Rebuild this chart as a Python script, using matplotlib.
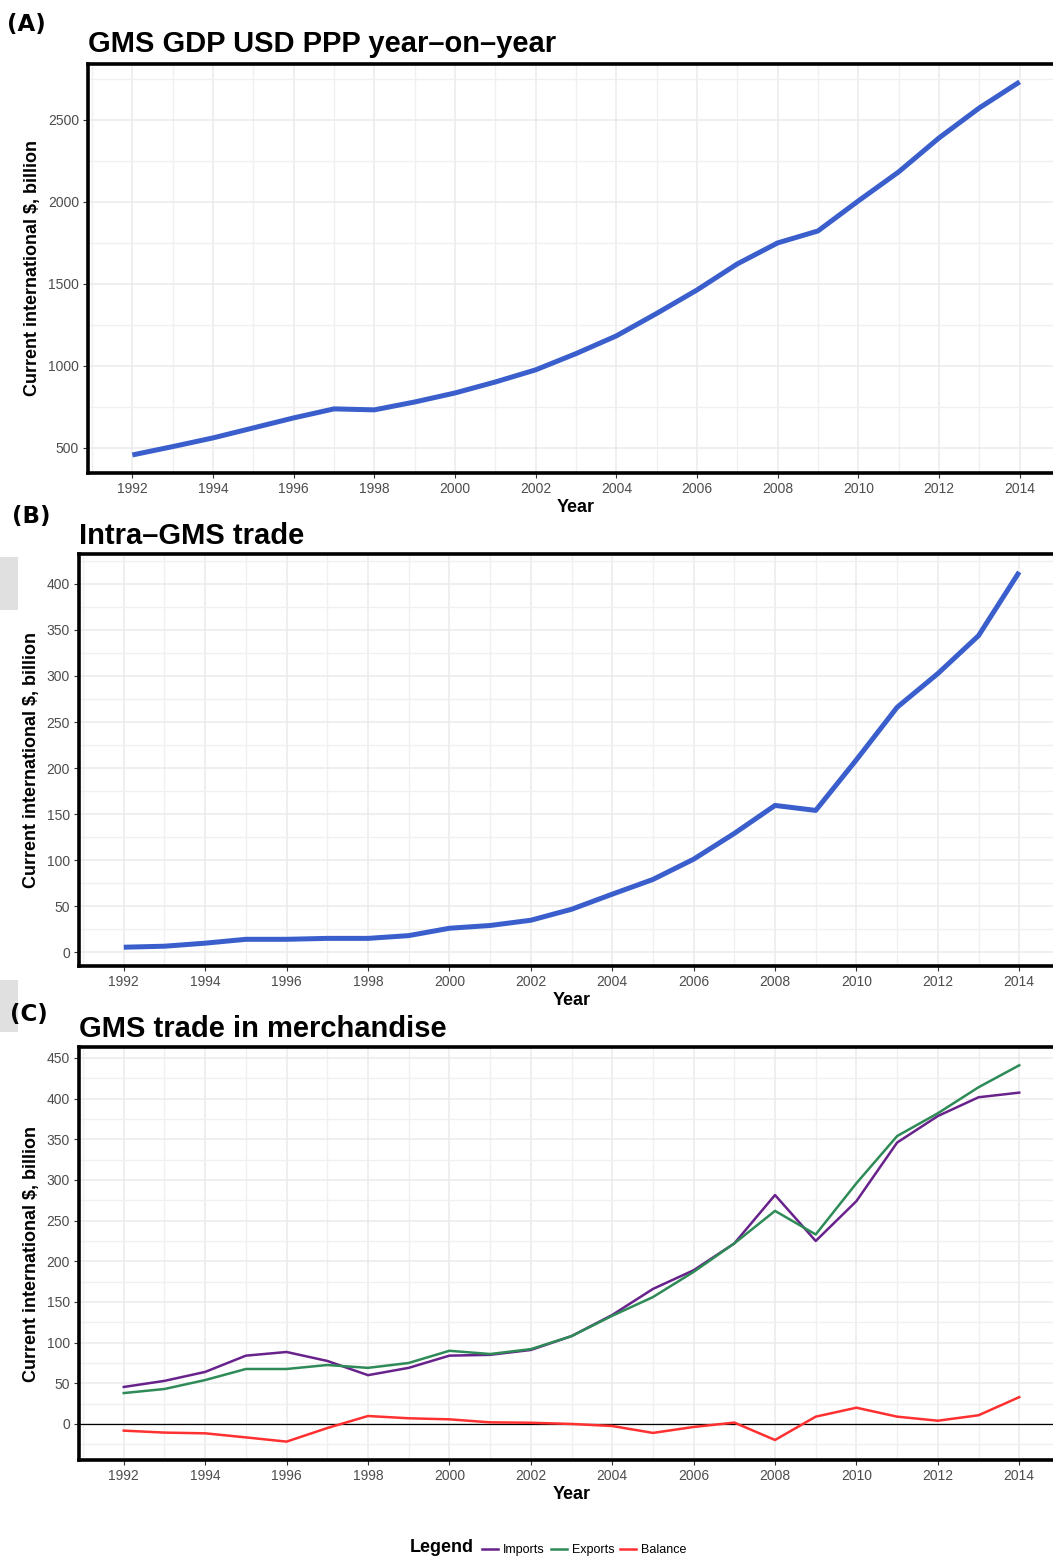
import matplotlib.pyplot as plt
from matplotlib.patches import Rectangle
from matplotlib.ticker import MultipleLocator

plt.rcParams['font.family'] = ['Liberation Sans', 'DejaVu Sans']

years = list(range(1992, 2015))

# GDP, current international $ billion (PPP)
gdp = [457, 508, 561, 622, 683, 738, 732, 780, 835, 902, 976, 1075,
       1183, 1320, 1463, 1622, 1750, 1823, 2006, 2183, 2390, 2573, 2732]

# intra-GMS trade, billion
intra = [5.4, 6.5, 9.8, 14, 14, 15, 15, 18, 26, 29, 34.7, 46.6,
         63, 79, 101, 129, 159.4, 154, 209, 266, 302.6, 343.8, 413]

# merchandise trade, billion
imports = [45.5, 53, 64, 84, 88.5, 77.5, 60, 69, 84, 85, 91, 108,
           134, 166, 189, 222, 281.5, 225, 274, 346, 378.6, 401.7, 407.4]
exports = [38, 43, 54, 67.6, 67.6, 72.5, 69, 75, 90, 86, 92, 108,
           133, 156, 187, 222, 262, 233, 296, 354, 382, 414, 441]
balance = [-8.2, -10.6, -11.5, -16.5, -21.7, -5, 9.8, 7, 5.7, 2, 1.5, 0,
           -2.5, -11, -3.7, 1.7, -19.7, 9, 20, 9, 4, 10.7, 33]

W, H = 1053, 1559
fig = plt.figure(figsize=(W / 100, H / 100), dpi=100)


def box(l, t, r, b):
    return [l / W, 1 - b / H, (r - l) / W, (b - t) / H]


def style(ax, ystep, ylim):
    ax.set_xlim(1990.9, 2015.1)
    ax.set_ylim(*ylim)
    ax.xaxis.set_major_locator(MultipleLocator(2))
    ax.xaxis.set_minor_locator(MultipleLocator(1))
    ax.yaxis.set_major_locator(MultipleLocator(ystep))
    ax.yaxis.set_minor_locator(MultipleLocator(ystep / 2))
    ax.grid(which='major', color='#ebebeb', lw=1.1, zorder=0)
    ax.grid(which='minor', color='#f0f0f0', lw=1.0, zorder=0)
    ax.set_axisbelow(True)
    for s in ['left', 'top', 'bottom']:
        ax.spines[s].set_linewidth(2.6)
        ax.spines[s].set_color('black')
    ax.spines['right'].set_visible(False)
    ax.tick_params(which='major', length=3.5, width=0.8, color='#333333',
                   labelcolor='#4d4d4d', labelsize=10, pad=3)
    ax.tick_params(which='minor', length=0)
    ax.set_xlabel('Year', fontsize=13, fontweight='bold', labelpad=2)
    ax.set_ylabel('Current international $, billion', fontsize=13,
                  fontweight='bold', labelpad=5)


blue = '#3A5FCD'

axA = fig.add_axes(box(88, 64, 1064, 473))
axA.plot(years, gdp, color=blue, lw=3.6, solid_capstyle='butt')
style(axA, 500, (347, 2841))
axA.set_title('GMS GDP USD PPP year\u2013on\u2013year', loc='left', fontsize=21,
              fontweight='bold', pad=9)

axB = fig.add_axes(box(79, 554, 1064, 966))
axB.plot(years, intra, color=blue, lw=3.6, solid_capstyle='butt')
style(axB, 50, (-15, 432.5))
axB.set_title('Intra\u2013GMS trade', loc='left', fontsize=21,
              fontweight='bold', pad=7)

axC = fig.add_axes(box(79, 1047, 1064, 1460))
axC.axhline(0, color='black', lw=0.9, zorder=1)
lines = []
lines += axC.plot(years, imports, color='#68228B', lw=1.8, label='Imports')
lines += axC.plot(years, exports, color='#2E8B57', lw=1.8, label='Exports')
lines += axC.plot(years, balance, color='#FF3030', lw=1.8, label='Balance')
style(axC, 50, (-44.3, 463.5))
axC.set_title('GMS trade in merchandise', loc='left', fontsize=21,
              fontweight='bold', pad=7)

# panel tags
for txt, x, y in [('(A)', 7, 25), ('(B)', 12, 517), ('(C)', 10, 1014)]:
    fig.text(x / W, 1 - y / H, txt, fontsize=16.5, fontweight='bold',
             family='DejaVu Sans', va='center', ha='left')

# grey strip remnants at the left edge
for t, b in [(557, 610), (980, 1032)]:
    fig.add_artist(Rectangle((0, 1 - b / H), 18 / W, (b - t) / H,
                             transform=fig.transFigure, color='#e0e0e0', lw=0))

# legend along the bottom
fig.text(410 / W, 1 - 1548 / H, 'Legend', fontsize=13, fontweight='bold',
         va='center', ha='left')
fig.legend(lines, [l.get_label() for l in lines], ncol=3, frameon=False,
           fontsize=9, loc='center left', bbox_to_anchor=(482 / W, 1 - 1550 / H),
           handlelength=1.3, handletextpad=0.4, columnspacing=0.45,
           borderpad=0, borderaxespad=0)

fig.savefig('out.png', dpi=100)
